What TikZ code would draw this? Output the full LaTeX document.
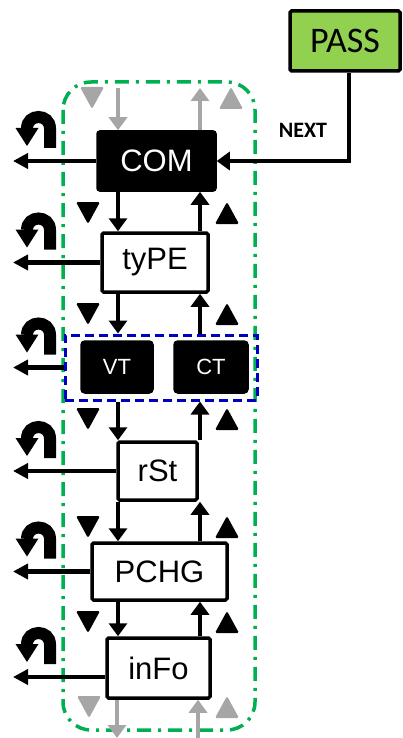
\documentclass[tikz,border=0pt]{standalone}
\usepackage{fontspec}
\setmainfont{Liberation Sans}
\newfontfamily\passfont{Carlito}
\usetikzlibrary{arrows.meta}
\definecolor{passgreen}{HTML}{92D050}
\definecolor{loopgreen}{HTML}{00B050}
\definecolor{grpblue}{HTML}{0000C0}
\definecolor{arrgray}{HTML}{A6A6A6}
\tikzset{
  blk/.style={draw=black, line width=3.5pt, fill=white, rounded corners=1.5pt, inner sep=0pt, font=\fontsize{31}{36}\selectfont},
  darkblk/.style={blk, fill=black, text=white, rounded corners=3pt, font=\fontsize{22}{26}\selectfont},
  arr/.style={line width=4.5pt, -{Triangle[length=13pt,width=18pt]}},
  garr/.style={arr, arrgray, line width=4pt},
  outarr/.style={line width=4.5pt, -{Triangle[length=15pt,width=15pt]}},
  downtri/.pic={\path[pic actions, rounded corners=1.5pt] (-12,-11) -- (12,-11) -- (0,11) -- cycle;},
  uptri/.pic={\path[pic actions, rounded corners=1.5pt] (-12,11) -- (12,11) -- (0,-11) -- cycle;},
  uturn/.pic={
    \draw[line width=12pt] (14,-13) -- (14,-32.5) .. controls (14,-47.8) and (-9,-47.8) .. (-9,-32.5);
    \fill (-20.5,-33) -- (2.5,-33) -- (-9,-15) -- cycle;
  }
}
\begin{document}
\begin{tikzpicture}[x=1pt, y=-1pt]
    \useasboundingbox (0,0) rectangle (403,738);
    % 外框
    \draw[loopgreen, line width=3.5pt, dash pattern=on 14pt off 7pt on 3pt off 7pt, rounded corners=28pt] (63,82) rectangle (255,730);

    % 各级模块
    \node[darkblk, font=\fontsize{31}{36}\selectfont, rounded corners=2pt, minimum width=117pt, minimum height=58pt] (COM) at (156.5,161) {COM};
    \node[blk, minimum width=106pt, minimum height=59pt] (tyPE) at (155,262.5) {tyPE};
    \node[draw=grpblue, line width=3pt, dash pattern=on 9pt off 5pt, minimum width=192pt, minimum height=65pt] (grp) at (161,367.5) {};
    \node[darkblk, minimum width=70pt, minimum height=50pt] (VT) at (117,367) {VT};
    \node[darkblk, minimum width=72pt, minimum height=50pt] (CT) at (211,367) {CT};
    \node[blk, minimum width=79pt, minimum height=58pt] (rSt) at (157.5,471) {rSt};
    \node[blk, minimum width=135pt, minimum height=57pt] (PCHG) at (159.5,571.5) {PCHG};
    \node[blk, minimum width=103pt, minimum height=60pt] (inFo) at (158.5,668) {inFo};

    % PASS 与 NEXT
    \node[blk, fill=passgreen, font=\passfont\fontsize{36}{40}\selectfont, minimum width=110pt, minimum height=60pt] (PASS) at (345,41) {PASS};
    \node[font=\passfont\bfseries\fontsize{22}{26}\selectfont] (next) at (303,130) {NEXT};
    \coordinate (bend) at (349,161);
    \draw[arr] (PASS.south -| bend) -- (bend) -- (COM.east);

    % 上下方向的箭头
    \coordinate (dn) at (118,0);
    \coordinate (up) at (200,0);
    \foreach \a/\b in {COM/tyPE, tyPE/grp, grp/rSt, rSt/PCHG, PCHG/inFo} {
        \draw[arr] (\a.south -| dn) -- (\b.north -| dn);
        \draw[arr] (\b.north -| up) -- (\a.south -| up);
    }
    \foreach \y in {213,314,419,527,622} {
        \pic[fill=black] at (88,\y) {downtri};
        \pic[fill=black] at (227,\y) {uptri};
    }

    % 灰色的进出箭头
    \coordinate (gtopin) at (118,88);
    \coordinate (gtopout) at (200,88);
    \coordinate (gbotout) at (117,738);
    \coordinate (gbotin) at (198,738);
    \draw[garr] (gtopin) -- (gtopin |- COM.north);
    \draw[garr] (COM.north -| gtopout) -- (gtopout);
    \draw[garr] (inFo.south -| gbotout) -- (gbotout);
    \draw[garr] (gbotin) -- (inFo.south -| gbotin);
    \pic[fill=arrgray] at (92,98) {downtri};
    \pic[fill=arrgray] at (231,98) {uptri};
    \pic[fill=arrgray] at (89,707) {downtri};
    \pic[fill=arrgray] at (227,707) {uptri};

    % 左侧输出与返回
    \coordinate (lft) at (13,0);
    \coordinate (ic) at (36,0);
    \coordinate (infoout) at ([yshift=-9pt]inFo.west);
    \foreach \n in {COM, tyPE, grp, rSt, PCHG} {
        \draw[outarr] (\n.west) -- (\n.west -| lft);
        \pic at (\n.west -| ic) {uturn};
    }
    \draw[outarr] (infoout) -- (infoout -| lft);
    \pic at (infoout -| ic) {uturn};
\end{tikzpicture}
\end{document}
